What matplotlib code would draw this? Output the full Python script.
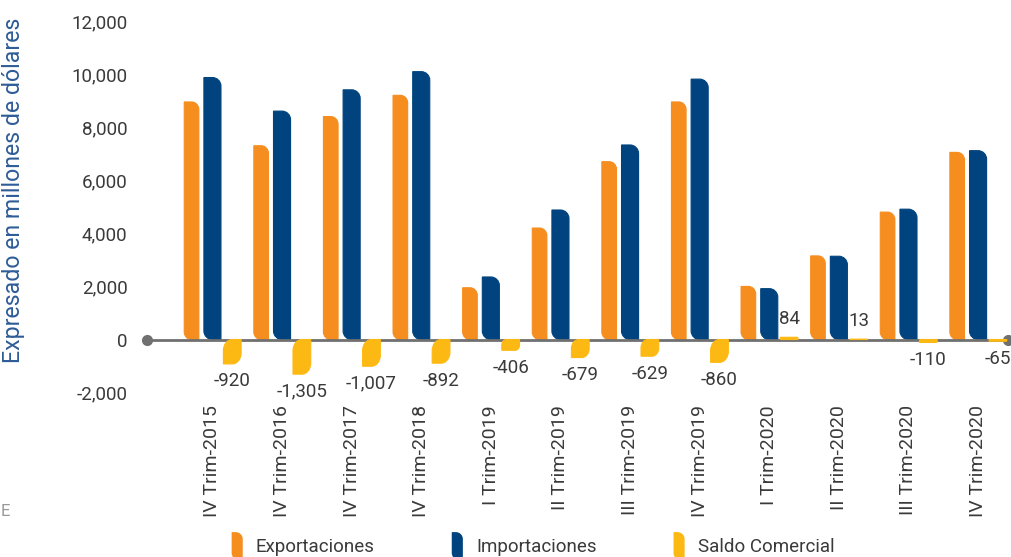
import numpy as np
import matplotlib
matplotlib.use("Agg")
import matplotlib.pyplot as plt
from matplotlib.path import Path
from matplotlib.patches import PathPatch
from matplotlib.legend_handler import HandlerPatch

plt.rcParams['font.family'] = ['Roboto', 'DejaVu Sans']

categories = ["IV Trim-2015", "IV Trim-2016", "IV Trim-2017", "IV Trim-2018",
              "I Trim-2019", "II Trim-2019", "III Trim-2019", "IV Trim-2019",
              "I Trim-2020", "II Trim-2020", "III Trim-2020", "IV Trim-2020"]
exportaciones = [8950, 7300, 8400, 9200, 1950, 4200, 6700, 8950, 2000, 3150, 4800, 7050]
importaciones = [9870, 8605, 9407, 10092, 2356, 4879, 7329, 9810, 1916, 3137, 4910, 7115]
saldo = [-920, -1305, -1007, -892, -406, -679, -629, -860, 84, 13, -110, -65]
saldo_labels = ["-920", "-1,305", "-1,007", "-892", "-406", "-679", "-629", "-860",
                "84", "13", "-110", "-65"]
yticks = [-2000, 0, 2000, 4000, 6000, 8000, 10000, 12000]

C_EXP = "#F68D1F"
C_IMP = "#00437E"
C_SAL = "#FDB913"
TXT = "#3A3A3A"

W, H = 1011, 557
fig = plt.figure(figsize=(W / 100, H / 100), dpi=100)
ax = fig.add_axes([147 / W, (H - 392.6) / H, 861 / W, (392.6 - 21) / H])
ax.set_xlim(-0.94, 11.43)
ax.set_ylim(-2000, 12000)

x = np.arange(len(categories))
b_exp = ax.bar(x - 0.30, exportaciones, width=0.21, color=C_EXP)
b_imp = ax.bar(x, importaciones, width=0.245, color=C_IMP)
b_sal = ax.bar(x + 0.285, saldo, width=0.255, color=C_SAL)

# pixel scale
p0 = ax.transData.transform((0, 0))
p1 = ax.transData.transform((1, 1))
pxx = p1[0] - p0[0]
pxy = p1[1] - p0[1]


def leaf_path(x0, w, h, r_px):
    x1 = x0 + w
    y0 = 0.0
    y1 = h
    s = 1 if h >= 0 else -1
    ry_px = min(r_px, abs(h) * pxy / 2)
    rx_px = min(r_px, w * pxx / 2)
    if ry_px < r_px:
        rx_px = rx_px * ry_px / r_px
    rx = rx_px / pxx
    ry = ry_px / pxy
    k = 0.5523
    verts = [
        (x0 + rx, y0),
        (x1, y0),
        (x1, y1 - s * ry),
        (x1, y1 - s * ry + s * k * ry), (x1 - rx + k * rx, y1), (x1 - rx, y1),
        (x0, y1),
        (x0, y0 + s * ry),
        (x0, y0 + s * ry - s * k * ry), (x0 + rx - k * rx, y0), (x0 + rx, y0),
        (x0 + rx, y0),
    ]
    codes = [Path.MOVETO, Path.LINETO, Path.LINETO,
             Path.CURVE4, Path.CURVE4, Path.CURVE4,
             Path.LINETO, Path.LINETO,
             Path.CURVE4, Path.CURVE4, Path.CURVE4,
             Path.CLOSEPOLY]
    return Path(verts, codes)


for cont, r, z in ((b_exp, 7.5, 2), (b_imp, 8.5, 2), (b_sal, 11, 4)):
    for rect in cont.patches:
        xx, ww, hh = rect.get_x(), rect.get_width(), rect.get_height()
        col = rect.get_facecolor()
        rect.set_visible(False)
        ax.add_patch(PathPatch(leaf_path(xx, ww, hh, r), facecolor=col,
                               edgecolor=col, lw=0.8, zorder=z))

# zero axis line with end dots
xl = ax.get_xlim()
ax.plot(xl, [0, 0], color="#707070", lw=2, marker='o', ms=7,
        clip_on=False, zorder=3)

# saldo labels
for rect, lab, v in zip(b_sal.patches, saldo_labels, saldo):
    cx = rect.get_x() + rect.get_width() / 2
    off = 13 if v >= 0 else -12.5
    ax.annotate(lab, (cx, v), xytext=(0, off), textcoords='offset points',
                ha='center', va='center', fontsize=13.5, color=TXT)

ax.set_yticks(yticks)
ax.set_yticklabels([f"{t:,}" for t in yticks], fontsize=13.5, color=TXT)
ax.set_xticks(x)
ax.set_xticklabels(categories, rotation=90, fontsize=14, color=TXT, va='top')
ax.tick_params(axis='y', length=0, pad=14)
ax.tick_params(axis='x', length=0, pad=9)
for sp in ax.spines.values():
    sp.set_visible(False)

ax.set_ylabel("Expresado en millones de dólares", fontsize=16.7,
              color="#2E5C97")
ax.yaxis.set_label_coords(-0.142, 0.545)


# legend
class LeafHandler(HandlerPatch):
    def create_artists(self, legend, orig_handle, xdescent, ydescent,
                       width, height, fontsize, trans):
        w = 8
        hgt = 20
        x0 = (width - w) / 2 - xdescent
        y0 = (height - hgt) / 2 - ydescent
        r = 5
        k = 0.5523
        x1, y1 = x0 + w, y0 + hgt
        verts = [(x0 + r, y0), (x1, y0), (x1, y1 - r),
                 (x1, y1 - r + k * r), (x1 - r + k * r, y1), (x1 - r, y1),
                 (x0, y1), (x0, y0 + r),
                 (x0, y0 + r - k * r), (x0 + r - k * r, y0), (x0 + r, y0),
                 (x0 + r, y0)]
        codes = [Path.MOVETO, Path.LINETO, Path.LINETO,
                 Path.CURVE4, Path.CURVE4, Path.CURVE4,
                 Path.LINETO, Path.LINETO,
                 Path.CURVE4, Path.CURVE4, Path.CURVE4, Path.CLOSEPOLY]
        p = PathPatch(Path(verts, codes), facecolor=orig_handle.get_facecolor(),
                      edgecolor='none', transform=trans)
        return [p]


handles = [PathPatch(Path([(0, 0), (1, 1)]), facecolor=c) for c in (C_EXP, C_IMP, C_SAL)]
leg = fig.legend(handles, ["Exportaciones", "Importaciones", "Saldo Comercial"],
                 handler_map={PathPatch: LeafHandler()},
                 loc='center', bbox_to_anchor=(533 / W, (H - 546) / H),
                 ncol=3, frameon=False, fontsize=13.5, handlelength=0.6,
                 handletextpad=0.7, columnspacing=4.1, handleheight=1.4)
for t in leg.get_texts():
    t.set_color(TXT)

fig.text(0.001, (H - 512) / H, "E", fontsize=12, color="#999999",
         ha='left', va='center')

fig.savefig("out.png", dpi=100)
